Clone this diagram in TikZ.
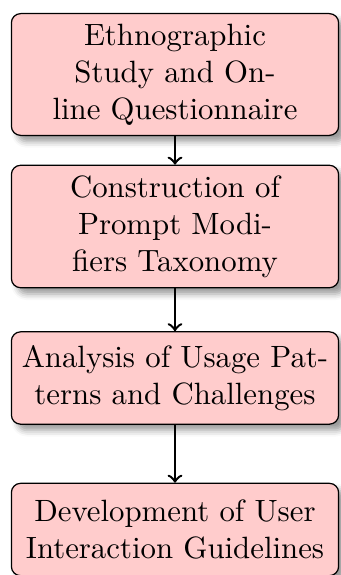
\documentclass[tikz,border=0pt]{standalone}
\usetikzlibrary{shadows.blur}
\begin{document}
\begin{tikzpicture}[x=0.3247pt,y=-0.3247pt,
  stage/.style={draw, rounded corners=3pt, fill=red!20, text width=3.5cm,
    minimum height=30pt, align=center,
    blur shadow={shadow xshift=2pt, shadow yshift=-2pt, shadow blur radius=2pt}},
  flow/.style={->, thick}]
  \useasboundingbox (0,0) rectangle (340,575);
  \node[stage] (s1) at (175,74.5) {Ethnographic\\Study and On-\\line Questionnaire};
  \node[stage] (s2) at (175,226.5) {Construction of\\Prompt Modi-\\fiers Taxonomy};
  \node[stage] (s3) at (175,378) {Analysis of Usage Pat-\\terns and Challenges};
  \node[stage] (s4) at (175,529.5) {Development of User\\Interaction Guidelines};
  \draw[flow] (s1) -- (s2);
  \draw[flow] (s2) -- (s3);
  \draw[flow] (s3) -- (s4);
\end{tikzpicture}
\end{document}
